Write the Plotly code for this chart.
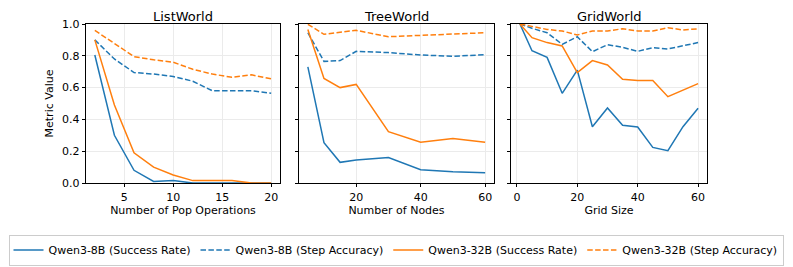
import plotly.graph_objects as go

# ---------------- data ----------------
list_x = [2, 4, 6, 8, 10, 12, 14, 16, 18, 20]
list_8b_sr = [0.805, 0.30, 0.08, 0.01, 0.015, 0.0, 0.0, 0.0, 0.0, 0.0]
list_8b_sa = [0.90, 0.78, 0.695, 0.685, 0.67, 0.64, 0.58, 0.58, 0.58, 0.565]
list_32b_sr = [0.90, 0.49, 0.19, 0.10, 0.05, 0.015, 0.015, 0.015, 0.0, 0.0]
list_32b_sa = [0.96, 0.88, 0.795, 0.775, 0.76, 0.715, 0.685, 0.665, 0.68, 0.655]

tree_x = [5, 10, 15, 20, 30, 40, 50, 60]
tree_8b_sr = [0.73, 0.254, 0.13, 0.145, 0.16, 0.084, 0.071, 0.065]
tree_8b_sa = [0.945, 0.765, 0.77, 0.828, 0.82, 0.805, 0.797, 0.807]
tree_32b_sr = [0.966, 0.658, 0.60, 0.62, 0.323, 0.256, 0.28, 0.256]
tree_32b_sa = [0.998, 0.935, 0.948, 0.96, 0.92, 0.93, 0.937, 0.945]

grid_x = [1, 5, 10, 15, 20, 25, 30, 35, 40, 45, 50, 55, 60]
grid_8b_sr = [1.0, 0.832, 0.79, 0.564, 0.71, 0.354, 0.472, 0.363, 0.352, 0.224, 0.203, 0.354, 0.47]
grid_8b_sa = [1.0, 0.973, 0.945, 0.872, 0.92, 0.826, 0.87, 0.853, 0.828, 0.851, 0.843, 0.864, 0.883]
grid_32b_sr = [1.0, 0.914, 0.883, 0.862, 0.694, 0.77, 0.742, 0.652, 0.644, 0.644, 0.543, 0.585, 0.625]
grid_32b_sa = [1.0, 0.983, 0.966, 0.956, 0.931, 0.956, 0.956, 0.97, 0.956, 0.956, 0.977, 0.962, 0.97]

panel_titles = ["ListWorld", "TreeWorld", "GridWorld"]
x_titles = ["Number of Pop Operations", "Number of Nodes", "Grid Size"]
series_names = ["Qwen3-8B (Success Rate)", "Qwen3-8B (Step Accuracy)",
                "Qwen3-32B (Success Rate)", "Qwen3-32B (Step Accuracy)"]
x_ticks = [[5, 10, 15, 20], [20, 40, 60], [0, 20, 40, 60]]
y_ticks = [0.0, 0.2, 0.4, 0.6, 0.8, 1.0]

panels = [
    (list_x, [list_8b_sr, list_8b_sa, list_32b_sr, list_32b_sa]),
    (tree_x, [tree_8b_sr, tree_8b_sa, tree_32b_sr, tree_32b_sa]),
    (grid_x, [grid_8b_sr, grid_8b_sa, grid_32b_sr, grid_32b_sa]),
]

# ---------------- style ----------------
BLUE = "#1f77b4"
ORANGE = "#ff7f0e"
styles = [(BLUE, "solid"), (BLUE, "5.5px,2.4px"), (ORANGE, "solid"), (ORANGE, "5.5px,2.4px")]
FONT = "DejaVu Sans"
OFF = 8  # page body margin in the browser
W, H = 793 - OFF, 267 - OFF
x_dom_px = [(86 - OFF, 280 - OFF), (299 - OFF, 494 - OFF), (511 - OFF, 707 - OFF)]
y_dom = [1 - (183 - OFF) / H, 1 - (24 - OFF) / H]

fig = go.Figure()
for p, (xs, ys_list) in enumerate(panels):
    for s, ys in enumerate(ys_list):
        color, dash = styles[s]
        fig.add_trace(go.Scatter(
            x=xs, y=ys, mode="lines", name=series_names[s],
            line=dict(color=color, width=1.5, dash=dash),
            xaxis="x" if p == 0 else f"x{p+1}",
            yaxis="y" if p == 0 else f"y{p+1}",
            showlegend=(p == 0), legendgroup=str(s),
        ))

layout = dict(
    width=W, height=H,
    margin=dict(l=0, r=0, t=0, b=0, autoexpand=False),
    paper_bgcolor="white", plot_bgcolor="white",
    font=dict(family=FONT, size=11, color="black"),
    showlegend=True,
    legend=dict(
        orientation="h", x=(396 - OFF) / W, xanchor="center",
        y=1 - (250 - OFF) / H, yanchor="middle",
        bordercolor="#cccccc", borderwidth=1, bgcolor="white",
        font=dict(family=FONT, size=11),
        tracegroupgap=0, itemwidth=30,
    ),
    annotations=[],
)

for p in range(3):
    xs = panels[p][0]
    lo, hi = min(xs), max(xs)
    pad = (hi - lo) * 0.05
    xkey = "xaxis" if p == 0 else f"xaxis{p+1}"
    ykey = "yaxis" if p == 0 else f"yaxis{p+1}"
    xa = "x" if p == 0 else f"x{p+1}"
    ya = "y" if p == 0 else f"y{p+1}"
    d0, d1 = x_dom_px[p]
    layout[xkey] = dict(
        domain=[d0 / W, d1 / W], anchor=ya, range=[lo - pad, hi + pad],
        tickvals=x_ticks[p], ticks="outside", ticklen=3.5, tickwidth=0.8, tickcolor="black",
        showline=True, linecolor="black", linewidth=0.8, mirror=True,
        showgrid=True, gridcolor="#ebebeb", gridwidth=0.8, zeroline=False,
        tickfont=dict(size=11),
        title=dict(text=x_titles[p], font=dict(size=11), standoff=3),
    )
    layout[ykey] = dict(
        domain=y_dom, anchor=xa, range=[0, 1],
        tickvals=y_ticks, tickformat=".1f", ticks="outside", ticklen=3.5, tickwidth=0.8,
        tickcolor="black", showticklabels=(p == 0),
        showline=True, linecolor="black", linewidth=0.8, mirror=True,
        showgrid=True, gridcolor="#ebebeb", gridwidth=0.8, zeroline=False,
        tickfont=dict(size=11),
        title=dict(text="Metric Value" if p == 0 else "", font=dict(size=11), standoff=6),
    )
    layout["annotations"].append(dict(
        text=panel_titles[p], x=(d0 + d1) / 2 / W, y=1.0,
        xref="paper", yref="paper", borderpad=0,
        xanchor="center", yanchor="top", showarrow=False, font=dict(size=13),
    ))

fig.update_layout(**layout)
fig.write_html("out.html")
